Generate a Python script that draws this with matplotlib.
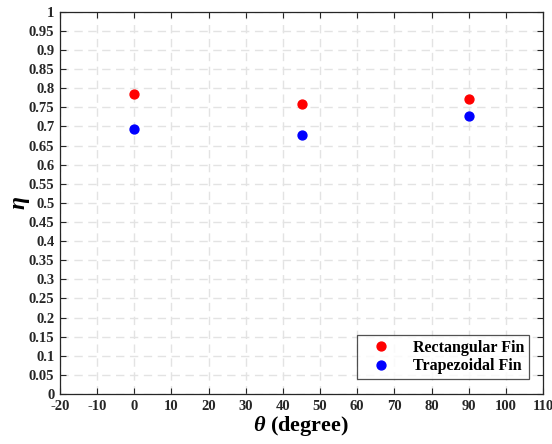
import matplotlib
matplotlib.use("Agg")
import matplotlib.pyplot as plt
import numpy as np

# Fin angle (degrees) and fin efficiency for each profile
theta = [0, 45, 90]
eta_rect = [0.786, 0.759, 0.771]
eta_trap = [0.694, 0.677, 0.727]

x_ticks = list(range(-20, 111, 10))
y_ticks = [round(v, 2) for v in np.arange(0, 1.0001, 0.05)]

plt.rcParams["font.family"] = ["Liberation Serif", "DejaVu Serif"]
plt.rcParams["font.weight"] = "bold"
plt.rcParams["mathtext.fontset"] = "custom"
plt.rcParams["mathtext.it"] = "Liberation Serif:italic:bold"
plt.rcParams["mathtext.rm"] = "Liberation Serif:bold"

fig = plt.figure(figsize=(5.52, 4.44), dpi=100)
ax = fig.add_axes([0.1087, 0.1126, 0.875, 0.861])

ax.plot(theta, eta_rect, "o", color="#ff0000", markersize=6.4, label="Rectangular Fin", zorder=3)
ax.plot(theta, eta_trap, "o", color="#0000ff", markersize=6.4, label="Trapezoidal Fin", zorder=3)

ax.set_xlim(-20, 110)
ax.set_ylim(0, 1)
ax.set_xticks(x_ticks)
ax.set_yticks(y_ticks)
ax.set_xticklabels([str(v) for v in x_ticks])
ax.set_yticklabels([("%g" % v) for v in y_ticks])
ax.tick_params(direction="in", top=True, right=True, length=4, width=0.8,
               labelsize=10.5, pad=4, colors="#262626")
for lbl in ax.get_xticklabels() + ax.get_yticklabels():
    lbl.set_fontweight("bold")

ax.grid(True, color="#e3e3e3", linestyle=(0, (6, 4)), linewidth=1.0)
ax.set_axisbelow(True)
for s in ax.spines.values():
    s.set_color("#262626")
    s.set_linewidth(0.9)

ax.set_xlabel(r"$\theta$ (degree)", fontsize=16, fontweight="bold", labelpad=1)
ax.set_ylabel(r"$\eta$", fontsize=17, fontweight="bold")
ax.yaxis.set_label_coords(-0.058, 0.5)

leg = ax.legend(loc="lower right", fontsize=11.5, frameon=True, fancybox=False,
                edgecolor="#262626", handletextpad=0.8, borderpad=0.3,
                labelspacing=0.15, borderaxespad=0, handlelength=2.4,
                bbox_to_anchor=(0.971, 0.039))
leg.get_frame().set_linewidth(0.9)
for t in leg.get_texts():
    t.set_fontweight("bold")

fig.savefig("out.png", dpi=100)
